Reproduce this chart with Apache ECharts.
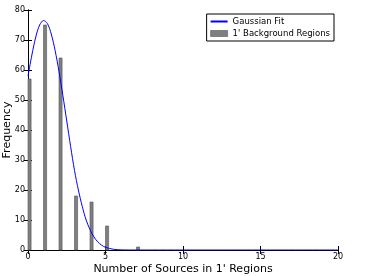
<!DOCTYPE html>
<html><head><meta charset="utf-8">
<script src="https://cdn.jsdelivr.net/npm/echarts@6/dist/echarts.min.js"></script>
<style>html,body{margin:0;padding:0;background:#fff}#c{width:378px;height:276px}</style>
</head><body><div id="c"></div>
<script>
// Histogram bins (left edge) and counts
const binLefts = [0, 1, 2, 3, 4, 5, 7];
const counts = [57, 75, 64, 18, 16, 8, 1];
const binWidth = 0.2;
// Gaussian fit curve
const fitX = [0, 0.25, 0.5, 0.75, 1.0, 1.25, 1.5, 1.75, 2.0, 2.25, 2.5, 2.75, 3.0, 3.25, 3.5, 3.75, 4.0, 4.25, 4.5, 4.75, 5.0, 5.5, 6.0, 6.5, 7.0, 8.0, 10, 15, 20];
const fitY = [58, 65, 71, 75, 76.5, 75.5, 72, 66.5, 59.5, 51.5, 43, 34.5, 26.5, 20, 14.5, 10, 6.8, 4.4, 2.7, 1.6, 0.9, 0.25, 0.05, 0.01, 0, 0, 0, 0, 0];
const xTicks = [0, 5, 10, 15, 20];
const yTicks = [0, 10, 20, 30, 40, 50, 60, 70, 80];

const font = 'DejaVu Sans';
const chart = echarts.init(document.getElementById('c'));
const axisCommon = {
  type: 'value',
  axisLine: {show: true, lineStyle: {color: '#000', width: 1}},
  axisTick: {show: true, inside: true, length: 4, lineStyle: {color: '#000'}},
  splitLine: {show: false}
};
chart.setOption({
  animation: false,
  textStyle: {fontFamily: font},
  grid: {left: 28, right: 40, top: 10, bottom: 26, show: false, containLabel: false, outerBoundsMode: 'none'},
  legend: {
    orient: 'vertical', top: 14, right: 44,
    borderColor: '#000', borderWidth: 1, borderRadius: 0,
    padding: [3, 4, 3, 3], itemGap: 3, itemWidth: 17, itemHeight: 6,
    textStyle: {fontFamily: font, fontSize: 8.5, color: '#000'},
    data: [
      {name: 'Gaussian Fit', itemStyle: {opacity: 0}},
      {name: "1' Background Regions", icon: 'rect', itemStyle: {color: '#7f7f7f', borderColor: '#555', borderWidth: 0.6}}
    ]
  },
  xAxis: [
    Object.assign({}, axisCommon, {
      min: xTicks[0], max: xTicks[xTicks.length - 1], interval: 5,
      position: 'bottom',
      axisLabel: {fontSize: 8, color: '#000', margin: 3, fontFamily: font},
      name: "Number of Sources in 1' Regions", nameLocation: 'middle', nameGap: 14, nameMoveOverlap: false,
      nameTextStyle: {fontSize: 11, color: '#000', fontFamily: font}
    }),
    Object.assign({}, axisCommon, {
      min: xTicks[0], max: xTicks[xTicks.length - 1], interval: 5,
      position: 'top', axisLabel: {show: false}
    })
  ],
  yAxis: [
    Object.assign({}, axisCommon, {
      min: yTicks[0], max: yTicks[yTicks.length - 1], interval: 10,
      position: 'left',
      axisLabel: {fontSize: 8, color: '#000', margin: 3, fontFamily: font},
      name: 'Frequency', nameLocation: 'middle', nameGap: 15, nameMoveOverlap: false,
      nameTextStyle: {fontSize: 11, color: '#000', fontFamily: font}
    }),
    Object.assign({}, axisCommon, {
      min: yTicks[0], max: yTicks[yTicks.length - 1], interval: 10,
      position: 'right', axisLabel: {show: false}
    })
  ],
  series: [
    {
      name: 'Gaussian Fit', type: 'line', xAxisIndex: 0, yAxisIndex: 0,
      data: fitX.map((x, i) => [x, fitY[i]]),
      smooth: 0.3, showSymbol: false, z: 3, color: '#0000ff',
      symbol: 'path://M0,0 L13,0 L13,1 L0,1 Z', symbolSize: [13, 1],
      lineStyle: {color: '#0000ff', width: 1}, itemStyle: {color: '#0000ff'}
    },
    {
      name: "1' Background Regions", type: 'custom', xAxisIndex: 0, yAxisIndex: 0,
      itemStyle: {color: '#7f7f7f'}, z: 2,
      data: binLefts.map((x, i) => [x, counts[i]]),
      renderItem: function (params, api) {
        const x0 = api.value(0), v = api.value(1);
        const p0 = api.coord([x0, 0]);
        const p1 = api.coord([x0 + binWidth, v]);
        return {
          type: 'rect',
          shape: {x: p0[0], y: p1[1], width: p1[0] - p0[0], height: p0[1] - p1[1]},
          style: {fill: '#7f7f7f', stroke: '#555', lineWidth: 0.6}
        };
      }
    }
  ]
});
</script></body></html>
